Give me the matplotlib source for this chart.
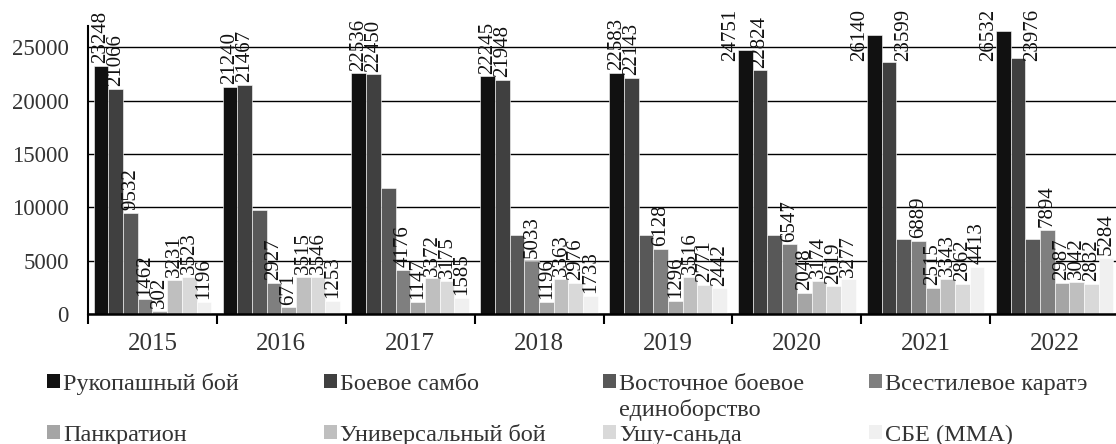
import matplotlib
matplotlib.use("Agg")
import matplotlib.pyplot as plt
from matplotlib.patches import Rectangle
import numpy as np

plt.rcParams['font.family'] = ['Liberation Serif', 'DejaVu Serif']

years = ["2015", "2016", "2017", "2018", "2019", "2020", "2021", "2022"]
series_names = ["Рукопашный бой", "Боевое самбо", "Восточное боевое\nединоборство",
                "Всестилевое каратэ", "Панкратион", "Универсальный бой",
                "Ушу-саньда", "СБЕ (ММА)"]
colors = ["#111111", "#404040", "#585858", "#7f7f7f", "#a5a5a5", "#bfbfbf",
          "#d9d9d9", "#f0f0f0"]

rukopashny = [23248, 21240, 22536, 22245, 22583, 24751, 26140, 26532]
boevoe_sambo = [21066, 21467, 22450, 21948, 22143, 22824, 23599, 23976]
vostochnoe = [9532, 9770, 11800, 7430, 7430, 7430, 7030, 7030]
vsestilevoe = [1462, 2927, 4176, 5033, 6128, 6547, 6889, 7894]
pankration = [302, 671, 1147, 1196, 1296, 2048, 2515, 2987]
universalny = [3231, 3515, 3372, 3363, 3516, 3174, 3343, 3042]
ushu = [3523, 3546, 3175, 2976, 2771, 2619, 2862, 2832]
sbe = [1196, 1253, 1585, 1733, 2442, 3277, 4413, 5284]

series_values = [rukopashny, boevoe_sambo, vostochnoe, vsestilevoe,
                 pankration, universalny, ushu, sbe]
# which values carry a data label in the original
vostochnoe_labeled = [True, False, False, False, False, False, False, False]
label_masks = [[True] * 8, [True] * 8, vostochnoe_labeled] + [[True] * 8] * 5

yticks = [0, 5000, 10000, 15000, 20000, 25000]

fig = plt.figure(figsize=(11.16, 4.44), dpi=100)
ax = fig.add_axes([0.0789, 0.2917, 0.9238, 0.6506])

n_groups = len(years)
n_series = len(series_values)
w = 0.114
group_x = np.arange(n_groups) + 0.5
cap = 23400

for j, (vals, col) in enumerate(zip(series_values, colors)):
    xs = group_x + (j - (n_series - 1) / 2) * w
    ax.bar(xs, vals, width=w, color=col, edgecolor='white', linewidth=0.4, zorder=3)
    for x, v, show in zip(xs, vals, label_masks[j]):
        if not show:
            continue
        xl = x
        if v > cap:
            if j == 0:
                xl = x - w
            elif j == 1:
                xl = x + w
        ax.annotate(str(v), xy=(xl, min(v, cap)), xytext=(0, 2),
                    textcoords='offset points', rotation=90, ha='center',
                    va='bottom', fontsize=15, color='#111111',
                    annotation_clip=False, zorder=5)

ax.set_xlim(0, n_groups)
ax.set_ylim(0, 27000)
ax.set_yticks(yticks)
ax.set_yticklabels([str(t) for t in yticks], fontsize=16.5, color='#333333')
ax.tick_params(axis='y', length=0, pad=14)
ax.yaxis.grid(True, color='black', linewidth=1.0, zorder=0)
ax.set_axisbelow(True)

ax.set_xticks(np.arange(n_groups + 1))
ax.set_xticklabels([])
ax.set_xticks(group_x, minor=True)
ax.set_xticklabels(years, minor=True, fontsize=18, color='#333333')
ax.tick_params(axis='x', which='major', length=7, width=1.5, direction='out', color='black')
ax.tick_params(axis='x', which='minor', length=0, pad=13)

for s in ['top', 'right']:
    ax.spines[s].set_visible(False)
ax.spines['left'].set_linewidth(1.5)
ax.spines['bottom'].set_linewidth(1.8)
ax.spines['left'].set_zorder(4)
ax.spines['bottom'].set_zorder(4)

# legend drawn manually, 4 columns x 2 rows
W, H = 1116.0, 444.0
col_x = [47, 324, 603, 869]
row_base = [390, 441]
line_step = 26
for k, (name, col) in enumerate(zip(series_names, colors)):
    r, c = divmod(k, 4)
    x0 = col_x[c]
    yb = row_base[r]
    fig.patches.append(Rectangle((x0 / W, 1 - (yb - 2) / H), 13 / W, 14 / H,
                                 transform=fig.transFigure, facecolor=col,
                                 edgecolor='none'))
    for li, line in enumerate(name.split("\n")):
        fig.text((x0 + 16) / W, 1 - (yb + li * line_step) / H, line,
                 fontsize=17.5, color='#333333', ha='left', va='baseline')

fig.savefig("out.png", dpi=100)
